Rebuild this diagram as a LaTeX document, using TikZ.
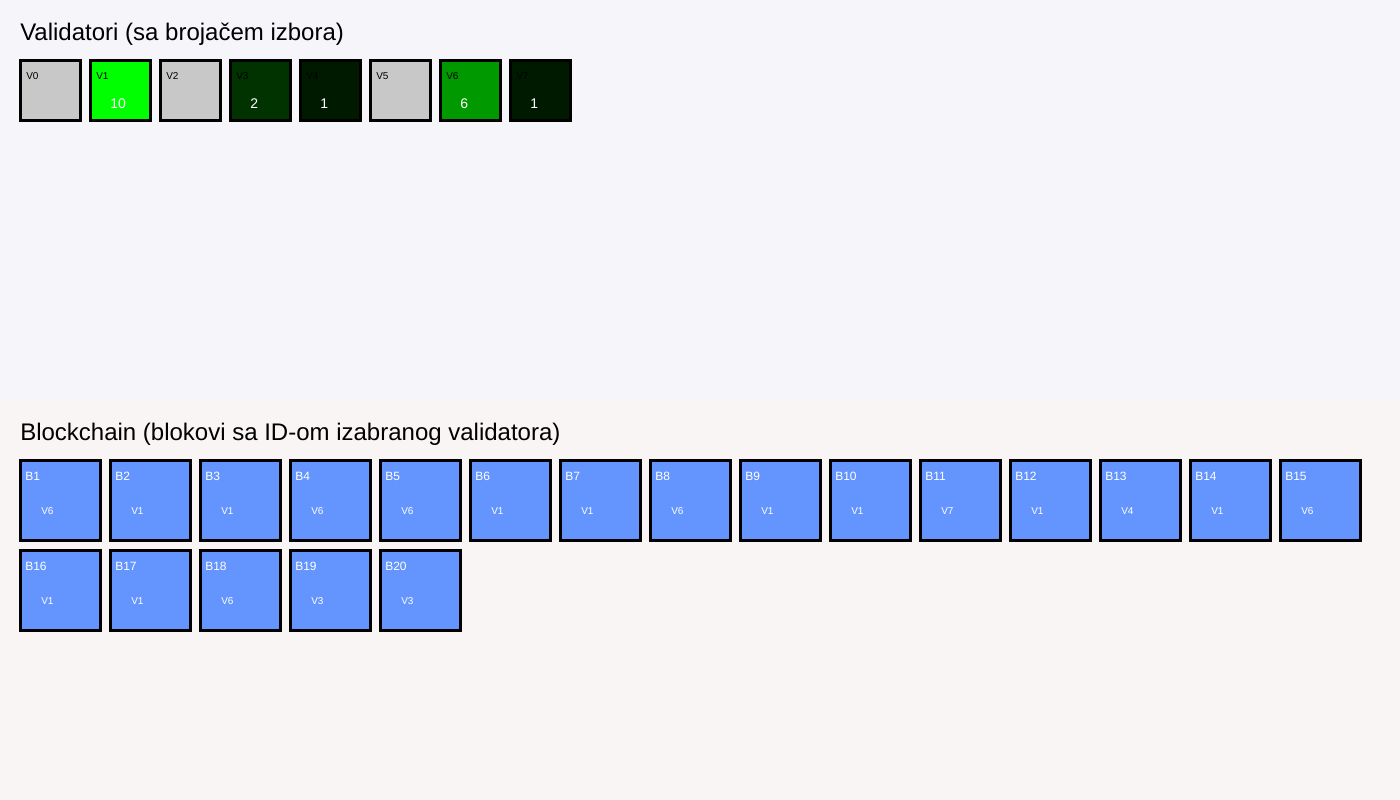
\documentclass[tikz,border=0pt]{standalone}
\usepackage{fontspec}
\setmainfont{Liberation Sans}
\usetikzlibrary{positioning}

\definecolor{topbg}{RGB}{245,245,250}
\definecolor{botbg}{RGB}{249,245,244}
\definecolor{blockblue}{RGB}{100,149,255}
\definecolor{unpicked}{RGB}{200,200,200}
\definecolor{picks1}{RGB}{0,26,0}
\definecolor{picks2}{RGB}{0,51,0}
\definecolor{picks6}{RGB}{0,153,0}
\definecolor{picks10}{RGB}{0,255,0}

\tikzset{
  valbox/.style={draw=black, line width=2.25pt, minimum width=45pt, minimum height=45pt,
    inner sep=0pt, outer sep=0pt, anchor=north west},
  blockbox/.style={draw=black, line width=2.25pt, fill=blockblue, minimum width=60pt,
    minimum height=60pt, inner sep=0pt, outer sep=0pt, anchor=north west},
  heading/.style={anchor=base west, inner sep=0pt, font=\fontsize{18}{21}\selectfont},
  vallabel/.style={anchor=base west, inner sep=0pt, font=\fontsize{7.5}{9}\selectfont},
  countlabel/.style={anchor=base west, inner sep=0pt, text=white, font=\fontsize{10.5}{12}\selectfont},
  blocklabel/.style={anchor=base west, inner sep=0pt, text=white, font=\fontsize{9}{11}\selectfont},
  minerlabel/.style={anchor=base west, inner sep=0pt, text=white, font=\fontsize{7.5}{9}\selectfont}
}

\begin{document}
\begin{tikzpicture}[x=0.75pt, y=-0.75pt]
                \fill[topbg] (0,0) rectangle (1400,400);
                \fill[botbg] (0,400) rectangle (1400,800);
                \node[heading] (valtitle) at (20,40) {Validatori (sa brojačem izbora)};
                \foreach \i/\col/\cnt in {0/unpicked/,1/picks10/10,2/unpicked/,3/picks2/2,
                    4/picks1/1,5/unpicked/,6/picks6/6,7/picks1/1} {
                    \node[valbox, fill=\col] (v\i) at (20+70*\i,60) {};
                    \node[vallabel] (v\i name) at ([shift={(6,19)}]v\i.north west) {V\i};
                    \node[countlabel] (v\i count) at ([shift={(20,48)}]v\i.north west) {\cnt};
                }
                \node[heading] (chaintitle) at (20,440) {Blockchain (blokovi sa ID-om izabranog validatora)};
                \foreach \n/\v in {1/6,2/1,3/1,4/6,5/6,6/1,7/1,8/6,9/1,10/1,
                    11/7,12/1,13/4,14/1,15/6,16/1,17/1,18/6,19/3,20/3} {
                    \pgfmathtruncatemacro{\row}{(\n-1)/15}
                    \pgfmathtruncatemacro{\col}{\n-1-15*\row}
                    \node[blockbox] (b\n) at (20+90*\col,460+90*\row) {};
                    \node[blocklabel] (b\n name) at ([shift={(5,20)}]b\n.north west) {B\n};
                    \node[minerlabel] (b\n miner) at ([shift={(21,54)}]b\n.north west) {V\v};
                }
            \end{tikzpicture}
\end{document}
